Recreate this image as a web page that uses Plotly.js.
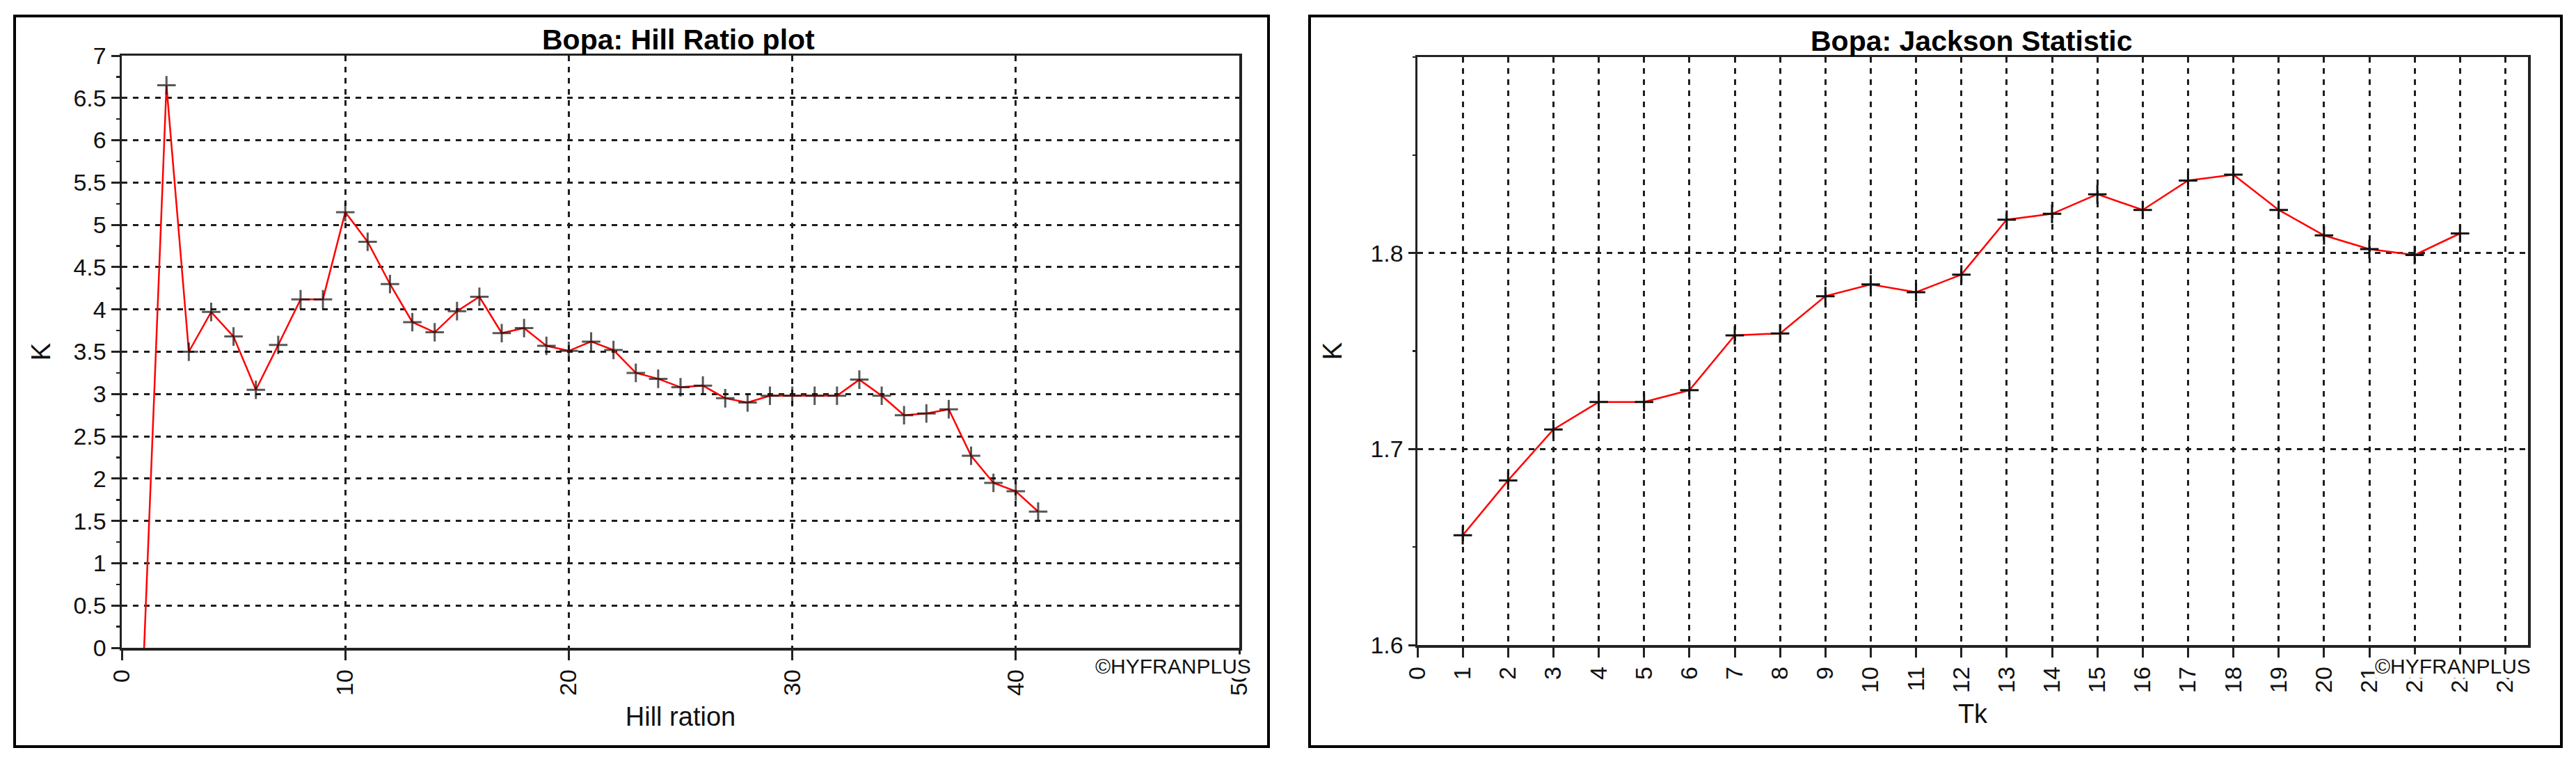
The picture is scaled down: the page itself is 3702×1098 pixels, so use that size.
<!DOCTYPE html>
<html><head><meta charset="utf-8">
<script src="https://cdn.plot.ly/plotly-3.0.1.min.js"></script>
<style>html,body{margin:0;padding:0;background:#fff;overflow:hidden}</style>
</head><body><div id="chart" style="width:3702px;height:1098px"></div>
<script>
// ---- data ----
const hillX = [1,2,3,4,5,6,7,8,9,10,11,12,13,14,15,16,17,18,19,20,21,22,23,24,25,26,27,28,29,30,31,32,33,34,35,36,37,38,39,40,41];
const hillK = [0,6.65,3.50,3.97,3.68,3.05,3.58,4.12,4.12,5.15,4.80,4.30,3.85,3.73,3.98,4.15,3.72,3.78,3.57,3.51,3.62,3.52,3.25,3.18,3.08,3.10,2.95,2.90,2.98,2.98,2.98,2.98,3.17,2.98,2.75,2.77,2.82,2.27,1.95,1.85,1.61];
const tkX = [1,2,3,4,5,6,7,8,9,10,11,12,13,14,15,16,17,18,19,20,21,22,23];
const jacksonK = [1.656,1.684,1.710,1.724,1.724,1.730,1.758,1.759,1.778,1.784,1.780,1.789,1.817,1.820,1.830,1.822,1.837,1.840,1.822,1.809,1.802,1.799,1.810];
const hillYTicks = [0,0.5,1,1.5,2,2.5,3,3.5,4,4.5,5,5.5,6,6.5,7];
const hillYLabels = ["0","0.5","1","1.5","2","2.5","3","3.5","4","4.5","5","5.5","6","6.5","7"];
const hillXTicks = [0,10,20,30,40,50];
const tkTicks = [0,1,2,3,4,5,6,7,8,9,10,11,12,13,14,15,16,17,18,19,20,21,22,23,24];
const jacksonYTicks = [1.6,1.7,1.8];
const titles = ["Bopa: Hill Ratio plot","Bopa: Jackson Statistic"];
const xTitles = ["Hill ration","Tk"];
const yTitle = "K";
const watermark = "©HYFRANPLUS";

// ---- layout helpers ----
const W = 3702, H = 1098;
const px = v => v / W;
const py = v => 1 - v / H;
const FONT = "Liberation Sans, Arial, sans-serif";
const INK = "#111";

const hillSizes = hillK.map(k => k === 0 ? 0 : 19);

const traces = [
  {x: hillX, y: hillK, xaxis: "x", yaxis: "y", type: "scatter", mode: "lines+markers",
   line: {color: "#ff0000", width: 2.5},
   marker: {symbol: "cross-thin", size: hillSizes, color: INK, line: {color: INK, width: 3}},
   cliponaxis: false, showlegend: false, hoverinfo: "x+y"},
  {x: tkX, y: jacksonK, xaxis: "x2", yaxis: "y2", type: "scatter", mode: "lines+markers",
   line: {color: "#ff0000", width: 2.5},
   marker: {symbol: "cross-thin", size: 19, color: INK, line: {color: INK, width: 3}},
   cliponaxis: false, showlegend: false, hoverinfo: "x+y"}
];

const gridCommon = {gridcolor: "#1e1e1e", gridwidth: 3, griddash: "8px,8px",
  showline: true, linecolor: "#222", linewidth: 3.5, mirror: true,
  ticks: "outside", tickcolor: "#222", tickwidth: 3,
  tickfont: {family: FONT, size: 34, color: INK}, zeroline: false, automargin: false};

const layout = {
  width: W, height: H,
  margin: {l: 0, r: 0, t: 0, b: 0, pad: 0},
  paper_bgcolor: "#fff", plot_bgcolor: "#fff",
  font: {family: FONT, color: INK},
  xaxis: Object.assign({}, gridCommon, {
    domain: [px(175), px(1781)], anchor: "y", range: [0, 50],
    tickmode: "array", tickvals: hillXTicks, tickangle: -90, ticklen: 14,
    tickfont: {family: FONT, size: 34, color: INK},
    title: {text: xTitles[0], font: {family: FONT, size: 38, color: INK}, standoff: 18}
  }),
  yaxis: Object.assign({}, gridCommon, {
    domain: [py(931), py(80)], anchor: "x", range: [0, 7],
    tickmode: "array", tickvals: hillYTicks, ticktext: hillYLabels, ticklen: 12,
    minor: {tickmode: "linear", tick0: 0, dtick: 0.25, ticks: "outside", ticklen: 5, tickwidth: 2.5, tickcolor: "#222", showgrid: false},
    title: {text: yTitle, font: {family: FONT, size: 38, color: INK}, standoff: 22}
  }),
  xaxis2: Object.assign({}, gridCommon, {
    domain: [px(2037), px(3633)], anchor: "y2", range: [0, 24.5],
    tickmode: "array", tickvals: tkTicks, tickangle: -90, ticklen: 14,
    tickfont: {family: FONT, size: 34, color: INK},
    title: {text: xTitles[1], font: {family: FONT, size: 38, color: INK}, standoff: 18}
  }),
  yaxis2: Object.assign({}, gridCommon, {
    domain: [py(927), py(82)], anchor: "x2", range: [1.6, 1.9],
    tickmode: "array", tickvals: jacksonYTicks, ticklen: 10,
    tickformat: ".1f",
    minor: {tickmode: "linear", tick0: 1.6, dtick: 0.05, ticks: "outside", ticklen: 4, tickwidth: 2.5, tickcolor: "#222", showgrid: false},
    title: {text: yTitle, font: {family: FONT, size: 38, color: INK}, standoff: 30}
  }),
  shapes: [
    {type: "rect", xref: "paper", yref: "paper", x0: px(21), x1: px(1823), y0: py(1073), y1: py(23), line: {color: "#000", width: 4}, layer: "below"},
    {type: "rect", xref: "paper", yref: "paper", x0: px(1882), x1: px(3681), y0: py(1073), y1: py(23), line: {color: "#000", width: 4}, layer: "below"}
  ],
  annotations: [
    {text: "<b>" + titles[0] + "</b>", xref: "paper", yref: "paper", x: px(975), y: py(57), xanchor: "center", yanchor: "middle", showarrow: false, font: {family: FONT, size: 41, color: "#000"}},
    {text: "<b>" + titles[1] + "</b>", xref: "paper", yref: "paper", x: px(2833), y: py(59), xanchor: "center", yanchor: "middle", showarrow: false, font: {family: FONT, size: 41, color: "#000"}},
    {text: watermark, xref: "paper", yref: "paper", x: px(1799), y: py(957), xanchor: "right", yanchor: "middle", showarrow: false, bgcolor: "#fff", borderpad: 0, font: {family: FONT, size: 30, color: INK}},
    {text: watermark, xref: "paper", yref: "paper", x: px(3638), y: py(957), xanchor: "right", yanchor: "middle", showarrow: false, bgcolor: "#fff", borderpad: 0, font: {family: FONT, size: 30, color: INK}}
  ]
};

Plotly.newPlot("chart", traces, layout, {staticPlot: true, displayModeBar: false});
</script>
</body></html>
